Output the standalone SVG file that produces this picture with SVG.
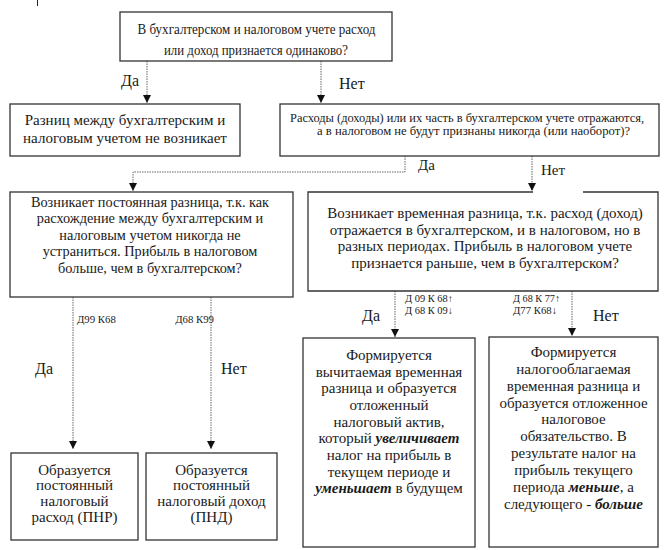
<svg xmlns="http://www.w3.org/2000/svg" width="666" height="550" viewBox="0 0 666 550" font-family="'Liberation Serif', 'DejaVu Serif', serif">
<defs>
<marker id="a" markerUnits="userSpaceOnUse" markerWidth="8" markerHeight="8" refX="8" refY="4" orient="auto" viewBox="0 0 8 8">
<path d="M0,0 L8,4 L0,8 Z" fill="#111"/>
</marker>
<style>
.box{fill:#fff;stroke:#333;stroke-width:1.3}
.t{fill:#1a1a1a;text-anchor:middle}
.l{fill:#1a1a1a}
.c{fill:none;stroke:#666;stroke-width:1;stroke-dasharray:1.5 1}
.bi{font-weight:bold;font-style:italic}
</style>
</defs>
<line x1="37.5" y1="0" x2="37.5" y2="6" stroke="#222" stroke-width="1"/>

<g id="connectors">
<line class="c" x1="147" y1="61" x2="147" y2="103" marker-end="url(#a)"/>
<line class="c" x1="321" y1="61" x2="321" y2="103" marker-end="url(#a)"/>
<path class="c" d="M405,156 V172 H133 V191" marker-end="url(#a)"/>
<line class="c" x1="532" y1="156" x2="532" y2="191" marker-end="url(#a)"/>
<line class="c" x1="73" y1="297" x2="73" y2="449" marker-end="url(#a)"/>
<line class="c" x1="211" y1="297" x2="211" y2="449" marker-end="url(#a)"/>
<line class="c" x1="395" y1="291" x2="395" y2="337" marker-end="url(#a)"/>
<line class="c" x1="572" y1="291" x2="572" y2="336" marker-end="url(#a)"/>
<text class="l" x="121" y="86" font-size="16">Да</text>
<text class="l" x="339" y="89" font-size="16">Нет</text>
<text class="l" x="418" y="170" font-size="15">Да</text>
<text class="l" x="541" y="175" font-size="15">Нет</text>
<text class="l" x="77" y="323" font-size="10.8">Д99 К68</text>
<text class="l" x="214" y="323" font-size="10.8" text-anchor="end">Д68 К99</text>
<text class="l" x="35" y="374" font-size="16">Да</text>
<text class="l" x="221" y="374" font-size="16">Нет</text>
<text class="l" x="405" y="302" font-size="10" textLength="48" lengthAdjust="spacingAndGlyphs">Д 09 К 68↑</text>
<text class="l" x="405" y="313.5" font-size="10" textLength="48" lengthAdjust="spacingAndGlyphs">Д 68 К 09↓</text>
<text class="l" x="513" y="302" font-size="10.2" textLength="47" lengthAdjust="spacingAndGlyphs">Д 68 К 77↑</text>
<text class="l" x="513" y="313.5" font-size="10.2" textLength="44" lengthAdjust="spacingAndGlyphs">Д77 К68↓</text>
<text class="l" x="362" y="321" font-size="16">Да</text>
<text class="l" x="593" y="321" font-size="16">Нет</text>
</g>

<g id="n1">
<rect class="box" x="120" y="12" width="272" height="49"/>
<text class="t" x="256.5" y="34" font-size="15" textLength="238" lengthAdjust="spacingAndGlyphs">В бухгалтерском и налоговом учете расход</text>
<text class="t" x="256" y="55" font-size="15" textLength="184" lengthAdjust="spacingAndGlyphs">или доход признается одинаково?</text>
</g>
<g id="n2">
<rect class="box" x="10" y="104" width="230" height="52"/>
<text class="t" x="125" y="125" font-size="15">Разниц между бухгалтерским и</text>
<text class="t" x="125" y="143" font-size="15">налоговым учетом не возникает</text>
</g>
<g id="n3">
<rect class="box" x="280" y="104" width="379" height="52"/>
<text class="t" x="467" y="121.5" font-size="12" textLength="354" lengthAdjust="spacingAndGlyphs">Расходы (доходы) или их часть в бухгалтерском учете отражаются,</text>
<text class="t" x="473.5" y="135" font-size="12" textLength="313" lengthAdjust="spacingAndGlyphs">а в налоговом не будут признаны никогда (или наоборот)?</text>
</g>
<g id="n4">
<rect class="box" x="10" y="192" width="283" height="105"/>
<text class="t" x="150" y="207" font-size="14.3">Возникает постоянная разница, т.к. как</text>
<text class="t" x="150" y="223" font-size="14.3">расхождение между бухгалтерским  и</text>
<text class="t" x="150" y="240" font-size="14.3">налоговым учетом никогда не</text>
<text class="t" x="150" y="256" font-size="14.3">устраниться. Прибыль в налоговом</text>
<text class="t" x="150" y="273" font-size="14.3">больше, чем в бухгалтерском?</text>
</g>
<g id="n5">
<path class="box" d="M533,192 H308 V291 H658 V192 H583"/>
<text class="t" x="485" y="218" font-size="15">Возникает временная разница, т.к. расход (доход)</text>
<text class="t" x="485" y="235" font-size="15">отражается в бухгалтерском, и в налоговом, но в</text>
<text class="t" x="485" y="251" font-size="15">разных периодах. Прибыль в налоговом учете</text>
<text class="t" x="485" y="268" font-size="15">признается раньше, чем в бухгалтерском?</text>
</g>
<g id="n6">
<rect class="box" x="11" y="453" width="127" height="87"/>
<text class="t" x="74.5" y="475" font-size="15">Образуется</text>
<text class="t" x="74.5" y="490" font-size="15">постоянный</text>
<text class="t" x="74.5" y="506" font-size="15">налоговый</text>
<text class="t" x="74.5" y="522" font-size="15">расход (ПНР)</text>
</g>
<g id="n7">
<rect class="box" x="146" y="453" width="131" height="87"/>
<text class="t" x="211.5" y="475" font-size="15">Образуется</text>
<text class="t" x="211.5" y="490" font-size="15">постоянный</text>
<text class="t" x="211.5" y="506" font-size="15">налоговый доход</text>
<text class="t" x="211.5" y="522" font-size="15">(ПНД)</text>
</g>
<g id="n8">
<rect class="box" x="303" y="338" width="172" height="209"/>
<text class="t" x="389" y="360" font-size="15">Формируется</text>
<text class="t" x="389" y="377" font-size="15">вычитаемая временная</text>
<text class="t" x="389" y="393" font-size="15">разница и образуется</text>
<text class="t" x="389" y="410" font-size="15">отложенный</text>
<text class="t" x="389" y="427" font-size="15">налоговый актив,</text>
<text class="t" x="389" y="443" font-size="15">который <tspan class="bi">увеличивает</tspan></text>
<text class="t" x="389" y="460" font-size="15">налог на прибыль в</text>
<text class="t" x="389" y="477" font-size="15">текущем периоде и</text>
<text class="t" x="389" y="493" font-size="15"><tspan class="bi">уменьшает</tspan> в будущем</text>
</g>
<g id="n9">
<rect class="box" x="489" y="337" width="169" height="210"/>
<text class="t" x="573.5" y="357" font-size="15">Формируется</text>
<text class="t" x="573.5" y="374" font-size="15">налогооблагаемая</text>
<text class="t" x="573.5" y="391" font-size="15">временная разница и</text>
<text class="t" x="573.5" y="408" font-size="15">образуется отложенное</text>
<text class="t" x="573.5" y="424" font-size="15">налоговое</text>
<text class="t" x="573.5" y="441" font-size="15">обязательство. В</text>
<text class="t" x="573.5" y="458" font-size="15">результате налог на</text>
<text class="t" x="573.5" y="475" font-size="15">прибыль текущего</text>
<text class="t" x="573.5" y="492" font-size="15">периода <tspan class="bi">меньше</tspan>, а</text>
<text class="t" x="573.5" y="509" font-size="15">следующего - <tspan class="bi">больше</tspan></text>
</g>
</svg>
